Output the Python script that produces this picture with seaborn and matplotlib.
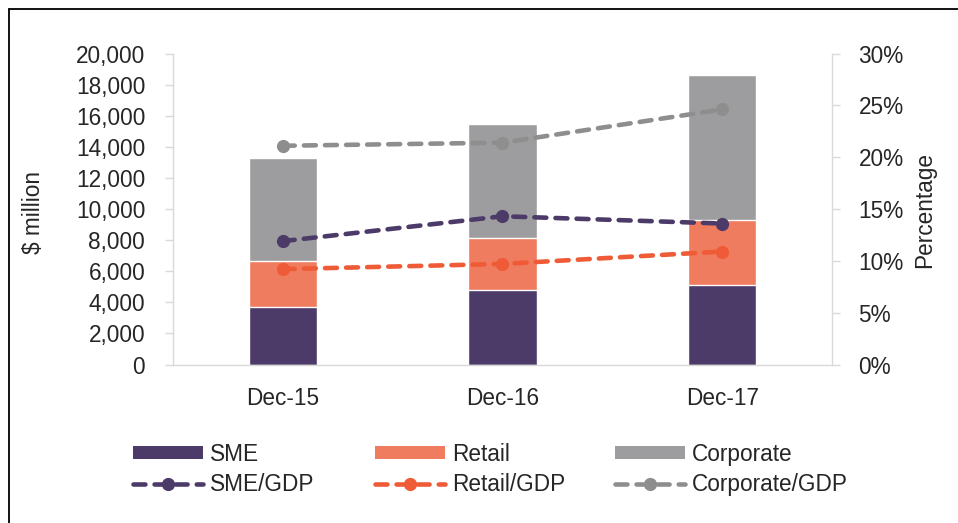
import matplotlib
matplotlib.use("Agg")
import matplotlib.pyplot as plt
import seaborn as sns
import pandas as pd
from matplotlib.lines import Line2D
from matplotlib.patches import Patch
from matplotlib.ticker import FuncFormatter

# ---- data ----
categories = ["Dec-15", "Dec-16", "Dec-17"]
sme = [3720, 4790, 5110]
retail = [2940, 3360, 4180]
corporate = [6640, 7300, 9330]
sme_gdp = [11.9, 14.3, 13.6]
retail_gdp = [9.2, 9.7, 10.9]
corporate_gdp = [21.1, 21.4, 24.6]
left_ticks = list(range(0, 20001, 2000))
right_ticks = list(range(0, 31, 5))
bar_labels = ["SME", "Retail", "Corporate"]
line_labels = ["SME/GDP", "Retail/GDP", "Corporate/GDP"]

# ---- style ----
sns.set_theme(style="white")
plt.rcParams['font.family'] = ['Liberation Sans', 'DejaVu Sans']
FS = 16.3
TXT = "#262626"
SPINE = "#D9D9D9"
c_sme = "#4C3A68"
c_retail_bar = "#F07C5F"
c_retail_line = "#EE5B36"
c_corp_bar = "#9D9D9F"
c_corp_line = "#8E8E8E"
DASH = (0, (2.6, 2.0))

W, H = 958, 523
fig = plt.figure(figsize=(W / 100, H / 100), dpi=100)
ax = fig.add_axes([173 / W, 1 - 364.5 / H, (832 - 173) / W, (364.5 - 53.5) / H])

df = pd.DataFrame({"cat": categories, "SME": sme, "Retail": retail, "Corporate": corporate})
df["retail_cum"] = df["SME"] + df["Retail"]
df["corp_cum"] = df["retail_cum"] + df["Corporate"]

for col, c in [("corp_cum", c_corp_bar), ("retail_cum", c_retail_bar), ("SME", c_sme)]:
    sns.barplot(data=df, x="cat", y=col, color=c, saturation=1, width=0.31, ax=ax)

ax.set_ylim(0, 20000)
ax.set_yticks(left_ticks)
ax.yaxis.set_major_formatter(FuncFormatter(lambda v, p: f"{int(v):,}"))
ax.set_xlabel("")
ax.set_ylabel("")

ax2 = ax.twinx()
xs = list(range(len(categories)))
for vals, c in [(corporate_gdp, c_corp_line), (sme_gdp, c_sme), (retail_gdp, c_retail_line)]:
    sns.lineplot(x=xs, y=vals, ax=ax2, color=c, linewidth=3.3, linestyle=DASH,
                 dash_capstyle="round", marker="o", markersize=9.5, markeredgewidth=0)
ax2.set_ylim(0, 30)
ax2.set_yticks(right_ticks)
ax2.yaxis.set_major_formatter(FuncFormatter(lambda v, p: f"{int(v)}%"))
ax2.set_ylabel("")
ax.set_xlim(-0.5, 2.5)

for s in ["top", "right"]:
    ax.spines[s].set_visible(False)
for s in ["left", "bottom"]:
    ax.spines[s].set_color(SPINE)
    ax.spines[s].set_linewidth(1.0)
for s in ["top", "left", "bottom"]:
    ax2.spines[s].set_visible(False)
ax2.spines["right"].set_color(SPINE)
ax2.spines["right"].set_linewidth(1.0)

ax.tick_params(axis="y", left=True, length=6, width=1, color=SPINE, pad=14,
               labelsize=FS, labelcolor=TXT)
ax.tick_params(axis="x", bottom=False, length=0, pad=16, labelsize=FS, labelcolor=TXT)
ax2.tick_params(axis="y", right=True, length=6, width=1, color=SPINE, pad=13,
                labelsize=FS, labelcolor=TXT)

fig.text(33 / W, 1 - 212 / H, "$ million", rotation=90, ha="center", va="center",
         fontsize=FS, color=TXT)
fig.text(925 / W, 1 - 210 / H, "Percentage", rotation=90, ha="center", va="center",
         fontsize=FS, color=TXT)

# frame lines (top and left)
fig.add_artist(Line2D([9 / W, 1], [1 - 9 / H, 1 - 9 / H], transform=fig.transFigure,
                      color="black", lw=1.3))
fig.add_artist(Line2D([9 / W, 9 / W], [0, 1 - 9 / H], transform=fig.transFigure,
                      color="black", lw=1.3))

# legend: three columns
bar_colors = [c_sme, c_retail_bar, c_corp_bar]
line_colors = [c_sme, c_retail_line, c_corp_line]
col_x = [133, 375, 615]
for i in range(3):
    handles = [
        Patch(facecolor=bar_colors[i], edgecolor="none", label=bar_labels[i]),
        Line2D([0], [0], color=line_colors[i], lw=3.3, linestyle=DASH,
               dash_capstyle="round", marker="o", markersize=9.5, markeredgewidth=0,
               label=line_labels[i]),
    ]
    leg = fig.legend(handles=handles, loc="center left",
                     bbox_to_anchor=(col_x[i] / W, 1 - 469.5 / H),
                     frameon=False, fontsize=FS, handlelength=3.1, handleheight=0.5,
                     handletextpad=0.3, labelspacing=0.33, borderpad=0, borderaxespad=0)
    for t in leg.get_texts():
        t.set_color(TXT)

fig.savefig("out.png", dpi=100)
